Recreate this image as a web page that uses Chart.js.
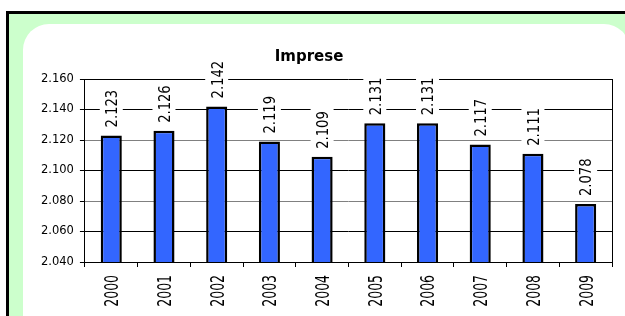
<!DOCTYPE html>
<html>
<head>
<meta charset="utf-8">
<script src="https://cdn.jsdelivr.net/npm/chart.js@4.4.1/dist/chart.umd.min.js"></script>
<style>
  body { margin: 0; background: #fff; }
  #wrap { position: relative; width: 625px; height: 316px; overflow: hidden; }
  #outer {
    position: absolute; left: 6px; top: 11px; width: 640px; height: 330px;
    border-top: 3px solid #000; border-left: 3px solid #000;
    background: #ccffcc;
  }
  #inner {
    position: absolute; left: 23px; top: 24px; width: 607px; height: 318px;
    background: #fff; border-radius: 26px;
  }
  #myChart { position: absolute; left: 0; top: 0; }
</style>
</head>
<body>
<div id="wrap">
  <div id="outer"></div>
  <div id="inner"></div>
  <canvas id="myChart" width="625" height="316"></canvas>
</div>
<script>
// data
var anni = ['2000', '2001', '2002', '2003', '2004', '2005', '2006', '2007', '2008', '2009'];
var imprese = [2123, 2126, 2142, 2119, 2109, 2131, 2131, 2117, 2111, 2078];
var yTicks = [2040, 2060, 2080, 2100, 2120, 2140, 2160];
var titolo = 'Imprese';

function fmt(v) {
    let s = String(Math.round(v));
    return s.slice(0, -3) + '.' + s.slice(-3);
}

// draw text rotated bottom-to-top, squeezed along its length (Excel-ish look)
function vText(ctx, txt, x, y, size, sx, box) {
    ctx.font = size + 'px "DejaVu Sans"';
    let w = ctx.measureText(txt).width * sx;
    ctx.save();
    ctx.translate(x, y);
    ctx.rotate(-Math.PI / 2);
    if (box) {
        ctx.fillStyle = '#fff';
        ctx.fillRect(-3, -11.5, w + 6, 23);
    }
    ctx.scale(sx, 1);
    ctx.fillStyle = '#000';
    ctx.textBaseline = 'alphabetic';
    ctx.fillText(txt, 0, size * 0.729 / 2);
    ctx.restore();
    return w;
}

// value labels above bars + category labels under the x axis
const barLabels = {
    id: 'barLabels',
    afterDatasetsDraw(chart) {
        const ctx = chart.ctx;
        const meta = chart.getDatasetMeta(0);
        const xs = chart.scales.x;
        ctx.save();
        meta.data.forEach(function (bar, i) {
            vText(ctx, fmt(imprese[i]), bar.x, bar.y - 8, 16, 0.82, true);
        });
        anni.forEach(function (a, i) {
            ctx.font = '19px "DejaVu Sans"';
            let w = ctx.measureText(a).width * 0.656;
            vText(ctx, a, xs.getPixelForTick(i), xs.bottom + 8 + w, 19, 0.656, false);
        });
        ctx.restore();
    }
};

// title, centred on the panel rather than on the plot
const titlePlugin = {
    id: 'titlePlugin',
    afterDraw(chart) {
        const ctx = chart.ctx;
        ctx.save();
        ctx.font = 'bold 15px "DejaVu Sans"';
        ctx.fillStyle = '#000';
        ctx.textAlign = 'center';
        ctx.fillText(titolo, 309, 61);
        ctx.restore();
    }
};

const ctx = document.getElementById('myChart').getContext('2d');
var myChart = new Chart(ctx, {
    type: 'bar',
    data: {
        labels: anni,
        datasets: [{
            label: titolo,
            data: imprese,
            backgroundColor: '#3366ff',
            borderColor: '#000',
            borderWidth: 2.5,
            barPercentage: 0.8,
            categoryPercentage: 0.5
        }]
    },
    options: {
        responsive: false,
        animation: false,
        layout: { padding: { left: 35, right: 13, top: 79, bottom: 49 } },
        plugins: {
            legend: { display: false },
            title: { display: false },
            tooltip: { enabled: false }
        },
        scales: {
            x: {
                grid: {
                    offset: true,
                    drawOnChartArea: true,
                    color: function (c) { return c.type === 'tick' ? 'rgba(0,0,0,0)' : '#000'; },
                    tickColor: '#000',
                    tickLength: 5
                },
                border: { color: '#000', width: 1 },
                ticks: { display: false }
            },
            y: {
                min: yTicks[0],
                max: yTicks[yTicks.length - 1],
                afterBuildTicks: function (axis) {
                    axis.ticks = yTicks.map(function (v) { return { value: v }; });
                },
                grid: {
                    color: function (c) {
                        let v = c.tick ? c.tick.value : 0;
                        return (v === 2120 || v === 2080) ? '#808080' : '#000';
                    },
                    tickColor: '#000',
                    tickLength: 5
                },
                border: { color: '#000', width: 1 },
                ticks: {
                    padding: 6,
                    color: '#000',
                    font: { family: '"DejaVu Sans"', size: 11.5 },
                    callback: function (v) { return fmt(v); }
                }
            }
        }
    },
    plugins: [barLabels, titlePlugin]
});
</script>
</body>
</html>
